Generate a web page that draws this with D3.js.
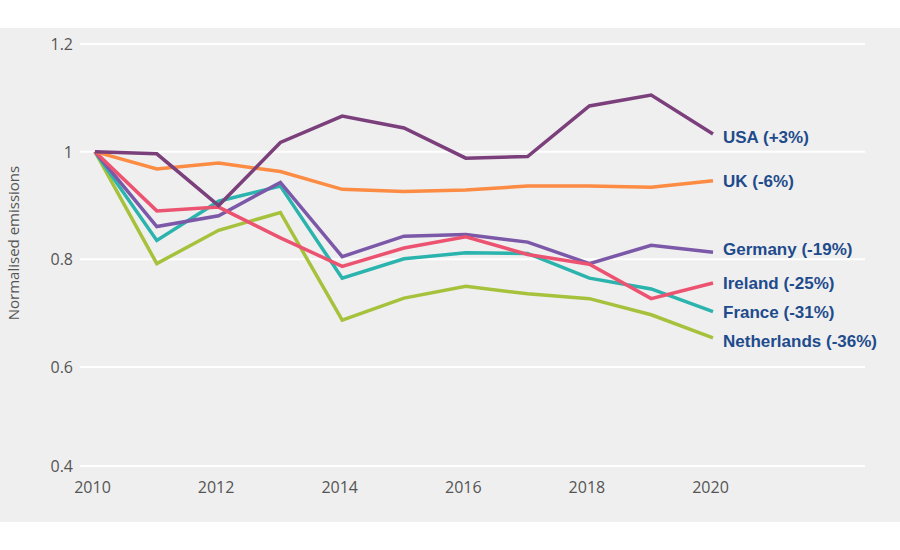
<!DOCTYPE html>
<html>
<head>
<meta charset="utf-8">
<script src="https://cdn.jsdelivr.net/npm/d3@7"></script>
<style>
  body { margin: 0; background: #ffffff; }
  svg { display: block; }
  text { font-family: "Open Sans", sans-serif; }
</style>
</head>
<body>
<svg id="chart" width="900" height="550"></svg>
<script>
const years = [2010, 2011, 2012, 2013, 2014, 2015, 2016, 2017, 2018, 2019, 2020];
const xTicks = [2010, 2012, 2014, 2016, 2018, 2020];
const yTicks = [0.4, 0.6, 0.8, 1, 1.2];
const yTickLabels = ["0.4", "0.6", "0.8", "1", "1.2"];

const seriesNames = ["Netherlands", "France", "Germany", "Ireland", "UK", "USA"];
const seriesLabels = ["Netherlands (-36%)", "France (-31%)", "Germany (-19%)", "Ireland (-25%)", "UK (-6%)", "USA (+3%)"];
const seriesColors = ["#a6c23c", "#2bb3ad", "#7b58a8", "#ec5371", "#fc8b43", "#7b3f7c"];

const netherlands = [1.0, 0.792, 0.854, 0.887, 0.687, 0.728, 0.750, 0.736, 0.727, 0.697, 0.654];
const france      = [1.0, 0.835, 0.908, 0.936, 0.765, 0.801, 0.812, 0.811, 0.765, 0.745, 0.703];
const germany     = [1.0, 0.861, 0.881, 0.943, 0.805, 0.843, 0.846, 0.832, 0.792, 0.826, 0.813];
const ireland     = [1.0, 0.890, 0.897, 0.840, 0.787, 0.821, 0.842, 0.809, 0.791, 0.727, 0.756];
const uk          = [1.0, 0.968, 0.979, 0.963, 0.930, 0.926, 0.929, 0.936, 0.936, 0.934, 0.946];
const usa         = [1.0, 0.996, 0.900, 1.017, 1.066, 1.044, 0.988, 0.991, 1.085, 1.105, 1.033];
const seriesValues = [netherlands, france, germany, ireland, uk, usa];

const svg = d3.select("#chart");

// panel background
svg.append("rect").attr("x", 0).attr("y", 28).attr("width", 900).attr("height", 494).attr("fill", "#efefef");

const x = d3.scaleLinear().domain([2010, 2020]).range([95, 713]);
const y = d3.scaleLinear().domain([0.4, 0.6, 1.2]).range([466, 367, 44]);

// gridlines
svg.append("g").selectAll("line").data(yTicks).join("line")
  .attr("x1", 80).attr("x2", 865)
  .attr("y1", d => y(d)).attr("y2", d => y(d))
  .attr("stroke", "#ffffff").attr("stroke-width", 2);

// y axis labels
const yAxis = d3.axisLeft(y).tickValues(yTicks).tickSize(0).tickPadding(0)
  .tickFormat((d, i) => yTickLabels[i]);
const gy = svg.append("g").attr("transform", "translate(73,0)").call(yAxis);
gy.select(".domain").remove();
gy.selectAll("text").attr("font-size", 16).attr("fill", "#555555")
  .style("font-family", "'Open Sans', sans-serif").attr("dy", "0.35em");

// x axis labels
const xAxis = d3.axisBottom(x).tickValues(xTicks).tickSize(0).tickPadding(0).tickFormat(d3.format("d"));
const gx = svg.append("g").attr("transform", "translate(-3,482)").call(xAxis);
gx.select(".domain").remove();
gx.selectAll("text").attr("font-size", 16).attr("fill", "#555555")
  .style("font-family", "'Open Sans', sans-serif").attr("dy", "0.71em");

// y title
svg.append("text")
  .attr("transform", "translate(19,243) rotate(-90)")
  .attr("text-anchor", "middle")
  .attr("font-size", 15).attr("fill", "#555555")
  .text("Normalised emissions");

// lines
const line = d3.line().x((d, i) => x(years[i])).y(d => y(d));
svg.append("g").selectAll("path").data(seriesValues).join("path")
  .attr("d", d => line(d))
  .attr("fill", "none")
  .attr("stroke", (d, i) => seriesColors[i])
  .attr("stroke-width", 3.5)
  .attr("stroke-linejoin", "miter");

// end labels
const labelOffsets = { "USA": 3, "UK": 0, "Germany": -3, "Ireland": 0, "France": 0, "Netherlands": 3 };
svg.append("g").selectAll("text").data(seriesNames).join("text")
  .attr("x", 723)
  .attr("y", (d, i) => y(seriesValues[i][seriesValues[i].length - 1]) + labelOffsets[d])
  .attr("dy", "0.35em")
  .attr("font-size", 17).attr("font-weight", "bold").attr("fill", "#1e4b8c")
  .style("font-family", "'Liberation Sans', Arial, sans-serif")
  .text((d, i) => seriesLabels[i]);
</script>
</body>
</html>
